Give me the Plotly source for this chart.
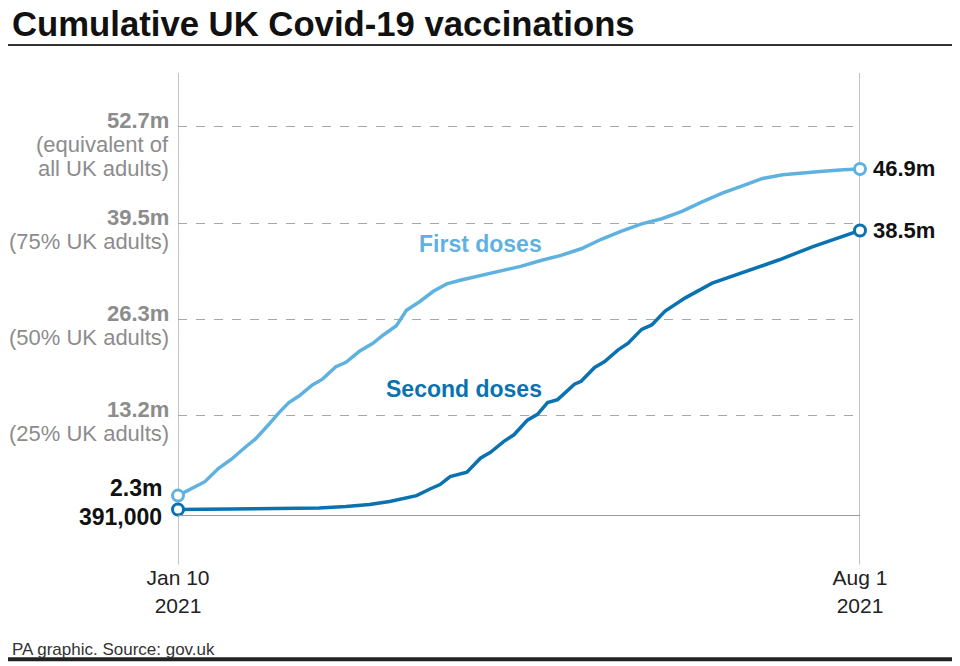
import plotly.graph_objects as go

# ---- data (values in millions) ----
first_dates = ["2021-01-10", "2021-01-14", "2021-01-18", "2021-01-22", "2021-01-26", "2021-01-30",
               "2021-02-02", "2021-02-06", "2021-02-09", "2021-02-12", "2021-02-15", "2021-02-19",
               "2021-02-22", "2021-02-26", "2021-03-01", "2021-03-05", "2021-03-09", "2021-03-12",
               "2021-03-16", "2021-03-19", "2021-03-23", "2021-03-27", "2021-03-31", "2021-04-04",
               "2021-04-10", "2021-04-16", "2021-04-22", "2021-04-28", "2021-05-04", "2021-05-10",
               "2021-05-16", "2021-05-22", "2021-05-28", "2021-06-03", "2021-06-09", "2021-06-15",
               "2021-06-21", "2021-06-27", "2021-07-03", "2021-07-09", "2021-07-15", "2021-07-21",
               "2021-07-27", "2021-08-01"]
first_values = [2.3, 3.2, 4.2, 6.0, 7.3, 8.9,
                10.0, 12.0, 13.6, 15.0, 15.9, 17.4,
                18.2, 19.9, 20.5, 22.0, 23.1, 24.2,
                25.5, 27.6, 28.8, 30.2, 31.2, 31.7,
                32.3, 32.9, 33.6, 34.4, 35.1, 36.0,
                37.3, 38.4, 39.4, 40.1, 41.1, 42.4,
                43.6, 44.6, 45.6, 46.1, 46.4, 46.6,
                46.8, 46.9]

second_dates = ["2021-01-10", "2021-01-24", "2021-02-07", "2021-02-21", "2021-03-01", "2021-03-08",
                "2021-03-14", "2021-03-19", "2021-03-22", "2021-03-26", "2021-03-29", "2021-04-01",
                "2021-04-04", "2021-04-06", "2021-04-10", "2021-04-13", "2021-04-17", "2021-04-20",
                "2021-04-24", "2021-04-27", "2021-04-30", "2021-05-03", "2021-05-08", "2021-05-10",
                "2021-05-14", "2021-05-17", "2021-05-21", "2021-05-24", "2021-05-28", "2021-05-31",
                "2021-06-04", "2021-06-10", "2021-06-18", "2021-06-28", "2021-07-08", "2021-07-18",
                "2021-07-25", "2021-08-01"]
second_values = [0.391, 0.44, 0.50, 0.62, 0.80, 1.08,
                 1.5, 2.0, 2.3, 3.2, 3.8, 4.9,
                 5.3, 5.5, 7.4, 8.2, 9.7, 10.6,
                 12.6, 13.4, 15.0, 15.4, 17.5, 17.9,
                 19.8, 20.6, 22.2, 23.1, 25.0, 25.6,
                 27.5, 29.3, 31.3, 32.9, 34.5, 36.3,
                 37.4, 38.5]

grid_values = [13.2, 26.3, 39.5, 52.7]
grid_labels = [["13.2m", "(25% UK adults)"],
               ["26.3m", "(50% UK adults)"],
               ["39.5m", "(75% UK adults)"],
               ["52.7m", "(equivalent of", "all UK adults)"]]
x_tick_dates = ["2021-01-10", "2021-08-01"]
x_tick_labels = ["Jan 10<br>2021", "Aug 1<br>2021"]
start_labels = ["2.3m", "391,000"]
end_labels = ["46.9m", "38.5m"]

LIGHT = "#5fb2e0"
DARK = "#0a72b0"
GREY = "#8c8c8c"
FONT = "Liberation Sans"

PLOT_H = 442.5

fig = go.Figure()

fig.add_trace(go.Scatter(x=first_dates, y=first_values, mode="lines",
                         line=dict(color=LIGHT, width=3.5), hoverinfo="skip", cliponaxis=False))
fig.add_trace(go.Scatter(x=second_dates, y=second_values, mode="lines",
                         line=dict(color=DARK, width=3.5), hoverinfo="skip", cliponaxis=False))
# endpoint markers
fig.add_trace(go.Scatter(x=[first_dates[0], first_dates[-1]], y=[first_values[0], first_values[-1]],
                         mode="markers", cliponaxis=False, hoverinfo="skip",
                         marker=dict(size=11, color="white", line=dict(color=LIGHT, width=3))))
fig.add_trace(go.Scatter(x=[second_dates[0], second_dates[-1]], y=[second_values[0], second_values[-1]],
                         mode="markers", cliponaxis=False, hoverinfo="skip",
                         marker=dict(size=11, color="white", line=dict(color=DARK, width=3))))

annotations = []
# y labels
for val, lines in zip(grid_values, grid_labels):
    for i, txt in enumerate(lines):
        annotations.append(dict(xref="paper", yref="y", x=0, y=val, xanchor="right", yanchor="middle",
                                xshift=-7, yshift=6 - 24 * i, text=txt, showarrow=False,
                                font=dict(family=FONT, size=22, color=GREY,
                                          weight="bold" if i == 0 else "normal")))
# start labels
annotations.append(dict(x=first_dates[0], y=first_values[0], xanchor="right", yanchor="middle",
                        xshift=-14, yshift=8, text=start_labels[0], showarrow=False,
                        font=dict(family=FONT, size=23, color="#111111", weight="bold")))
annotations.append(dict(x=second_dates[0], y=second_values[0], xanchor="right", yanchor="middle",
                        xshift=-14, yshift=-7, text=start_labels[1], showarrow=False,
                        font=dict(family=FONT, size=23, color="#111111", weight="bold")))
# end labels
annotations.append(dict(x=first_dates[-1], y=first_values[-1], xanchor="left", yanchor="middle",
                        xshift=11, yshift=0, text=end_labels[0], showarrow=False,
                        font=dict(family=FONT, size=22, color="#111111", weight="bold")))
annotations.append(dict(x=second_dates[-1], y=second_values[-1], xanchor="left", yanchor="middle",
                        xshift=11, yshift=0, text=end_labels[1], showarrow=False,
                        font=dict(family=FONT, size=22, color="#111111", weight="bold")))
# series labels
annotations.append(dict(x="2021-04-10", y=36.7, text="First doses", showarrow=False,
                        font=dict(family=FONT, size=23, color=LIGHT, weight="bold")))
annotations.append(dict(x="2021-04-05", y=16.8, text="Second doses", showarrow=False,
                        font=dict(family=FONT, size=23, color=DARK, weight="bold")))
# title and source
annotations.append(dict(xref="paper", yref="paper", x=0, y=1, xanchor="left", yanchor="middle",
                        xshift=-168, yshift=73 - 24, text="<b>Cumulative UK Covid-19 vaccinations</b>",
                        showarrow=False, font=dict(family=FONT, size=34.7, color="#111111")))
annotations.append(dict(xref="paper", yref="paper", x=0, y=0, xanchor="left", yanchor="middle",
                        xshift=-168, yshift=-(650 - 515.5), text="PA graphic. Source: gov.uk",
                        showarrow=False, font=dict(family=FONT, size=17, color="#333333")))

shapes = []
for d in x_tick_dates:
    shapes.append(dict(type="line", xref="x", yref="paper", x0=d, x1=d, y0=-0.112, y1=1,
                       line=dict(color="#9a9a9a", width=1.2), layer="below"))
# title underline and bottom rule
shapes.append(dict(type="line", xref="paper", yref="paper", x0=-0.5, x1=1.5,
                   y0=1 + (73 - 45) / PLOT_H, y1=1 + (73 - 45) / PLOT_H,
                   line=dict(color="#333333", width=2)))
shapes.append(dict(type="line", xref="paper", yref="paper", x0=-0.5, x1=1.5,
                   y0=-(660 - 515.5) / PLOT_H, y1=-(660 - 515.5) / PLOT_H,
                   line=dict(color="#222222", width=4)))

fig.update_layout(
    width=960, height=666,
    margin=dict(l=170, r=108, t=65, b=158.5),
    paper_bgcolor="white", plot_bgcolor="white",
    showlegend=False,
    annotations=annotations,
    shapes=shapes,
    xaxis=dict(type="date", range=["2021-01-10", "2021-08-01"], tickvals=x_tick_dates,
               ticktext=x_tick_labels, showgrid=False, zeroline=False, ticks="",
               showline=True, linecolor="#9a9a9a", linewidth=1.2, ticklabelstandoff=44,
               tickfont=dict(family=FONT, size=21, color="#222222")),
    yaxis=dict(range=[-0.35, 60.0], tickvals=grid_values, showticklabels=False,
               showgrid=True, gridcolor="#a8a8a8", gridwidth=1, griddash="dash",
               zeroline=False, showline=False, ticks=""),
)

fig.write_html("out.html")
